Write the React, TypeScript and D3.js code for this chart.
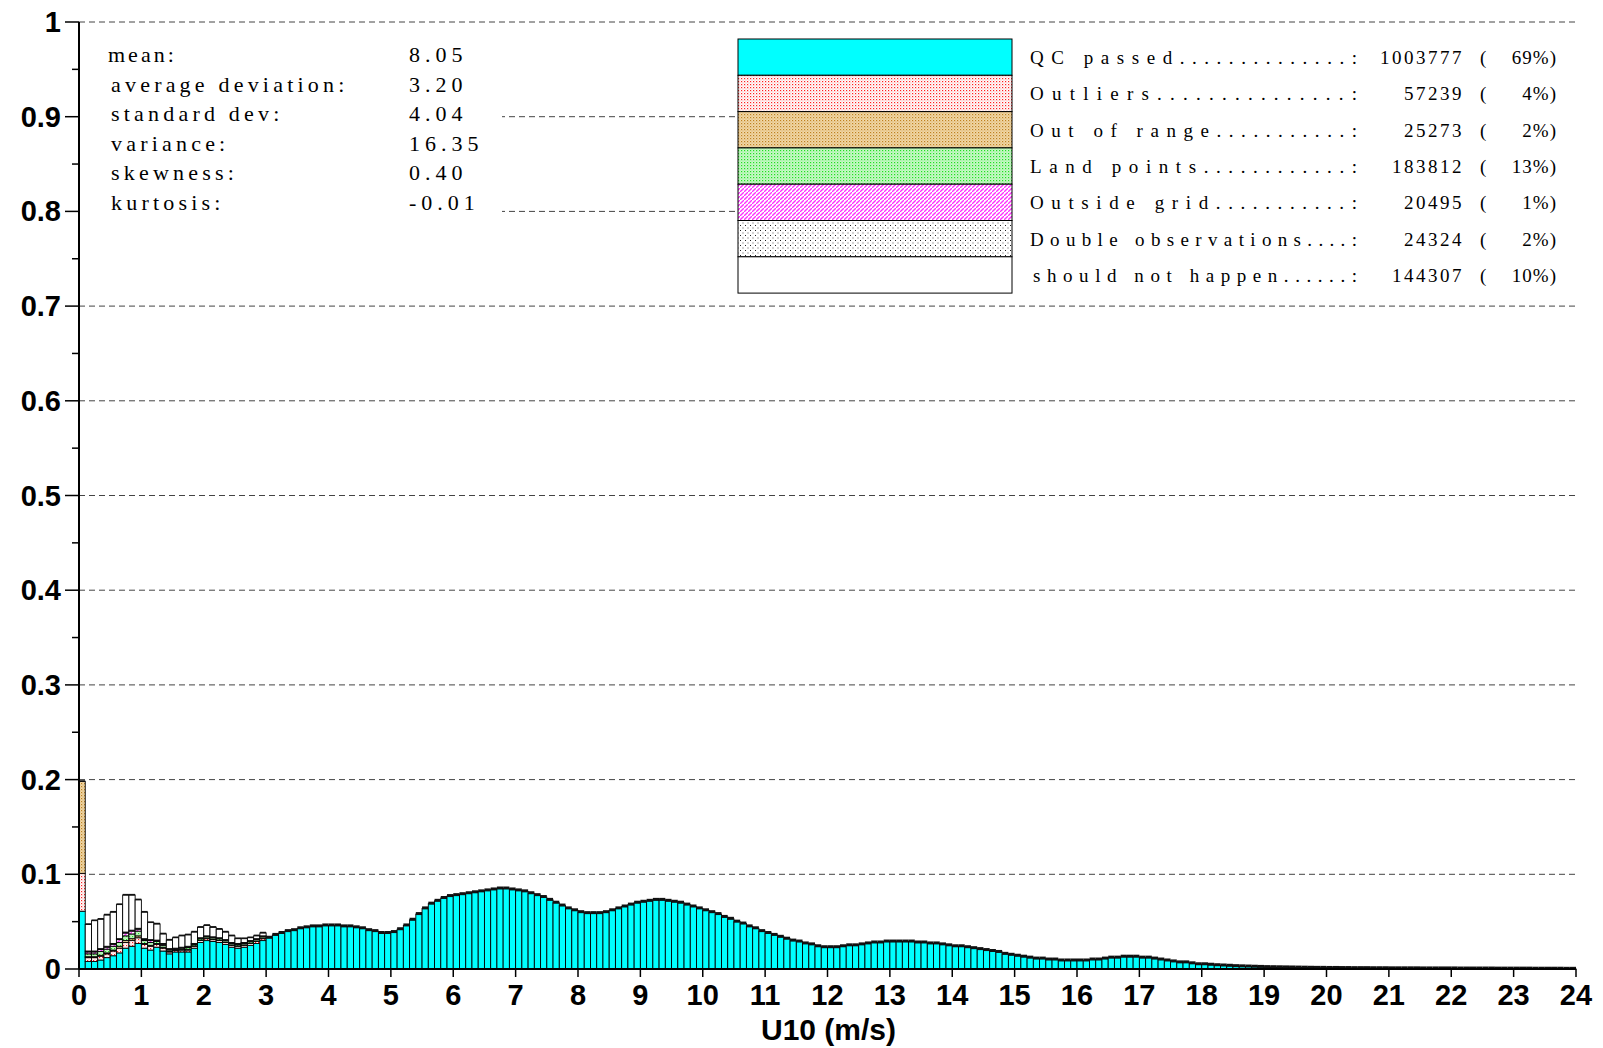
import * as d3 from "d3";

// QC passed, fraction per 0.1 m/s bin, 0..24 m/s
const qcPassed = [
  0.061, 0.008, 0.008, 0.0095, 0.012, 0.014, 0.017, 0.022, 0.024, 0.027,
  0.022, 0.02, 0.023, 0.019, 0.016, 0.018, 0.018, 0.018, 0.022, 0.028,
  0.03, 0.029, 0.028, 0.026, 0.023, 0.022, 0.023, 0.025, 0.027, 0.03,
  0.033, 0.036, 0.038, 0.04, 0.041, 0.043, 0.044, 0.045, 0.045, 0.046,
  0.046, 0.046, 0.045, 0.045, 0.044, 0.043, 0.041, 0.04, 0.038, 0.038,
  0.039, 0.042, 0.046, 0.052, 0.058, 0.064, 0.069, 0.072, 0.075, 0.077,
  0.078, 0.079, 0.08, 0.081, 0.082, 0.083, 0.084, 0.085, 0.085, 0.084,
  0.083, 0.082, 0.08, 0.078, 0.076, 0.073, 0.07, 0.067, 0.064, 0.062,
  0.06, 0.059, 0.059, 0.059, 0.06, 0.062, 0.064, 0.066, 0.068, 0.07,
  0.071, 0.072, 0.073, 0.073, 0.072, 0.071, 0.07, 0.068, 0.066, 0.064,
  0.062, 0.06, 0.058, 0.055, 0.053, 0.05, 0.048, 0.045, 0.043, 0.04,
  0.038, 0.036, 0.034, 0.032, 0.03, 0.029, 0.027, 0.026, 0.024, 0.023,
  0.023, 0.023, 0.024, 0.025, 0.025, 0.026, 0.027, 0.028, 0.028, 0.029,
  0.029, 0.029, 0.029, 0.029, 0.028, 0.028, 0.027, 0.027, 0.026, 0.025,
  0.024, 0.024, 0.023, 0.022, 0.021, 0.02, 0.019, 0.018, 0.016, 0.015,
  0.014, 0.013, 0.012, 0.011, 0.011, 0.01, 0.01, 0.009, 0.009, 0.009,
  0.009, 0.009, 0.01, 0.01, 0.011, 0.012, 0.012, 0.013, 0.013, 0.013,
  0.012, 0.012, 0.011, 0.01, 0.009, 0.008, 0.007, 0.007, 0.006, 0.005,
  0.005, 0.0045, 0.004, 0.0037, 0.0034, 0.003, 0.0028, 0.0026, 0.0024, 0.0022,
  0.002, 0.0019, 0.0018, 0.0017, 0.0016, 0.0015, 0.0014, 0.0013, 0.0012, 0.0012,
  0.0011, 0.0011, 0.001, 0.001, 0.0009, 0.0009, 0.0009, 0.0008, 0.0008, 0.0008,
  0.0007, 0.0007, 0.0007, 0.0007, 0.0007, 0.0006, 0.0006, 0.0006, 0.0006, 0.0006,
  0.0006, 0.0005, 0.0005, 0.0005, 0.0005, 0.0005, 0.0005, 0.0004, 0.0004, 0.0004,
  0.0004, 0.0004, 0.0004, 0.0003, 0.0003, 0.0003, 0.0003, 0.0003, 0.0002, 0.0002,
];
const outliers = [
  0.04, 0.004, 0.004, 0.004, 0.004, 0.005, 0.005, 0.006, 0.006, 0.006,
  0.004, 0.004, 0.003, 0.003, 0.002, 0.0015, 0.002, 0.002, 0.002, 0.002,
  0.002, 0.002, 0.002, 0.002, 0.002, 0.002, 0.002, 0.002, 0.002, 0.002,
];
const outOfRange = [
  0.097, 0.001, 0.001, 0.001, 0.001, 0.001, 0.002, 0.002, 0.002, 0.002,
  0.001, 0.001, 0.001, 0.001, 0.0005, 0.0005, 0.0005, 0.0005, 0.0005, 0.0005,
  0.0005, 0.0005, 0.0005, 0.0005, 0.0005, 0.0005, 0.0005, 0.0005, 0.0005, 0.0005,
];
const landPoints = [
  0, 0.003, 0.003, 0.004, 0.004, 0.004, 0.004, 0.005, 0.005, 0.005,
  0.003, 0.003, 0.002, 0.002, 0.0015, 0.001, 0.0015, 0.002, 0.0015, 0.0015,
  0.0015, 0.0015, 0.0015, 0.0015, 0.0015, 0.0015, 0.0015, 0.0015, 0.0015, 0.0015,
];
const outsideGrid = [
  0, 0.002, 0.002, 0.002, 0.002, 0.002, 0.003, 0.003, 0.003, 0.002,
  0.001, 0.002, 0.001, 0.001, 0.001, 0.0005, 0.0005, 0.001, 0.0005, 0.0005,
  0.0005, 0.0005, 0.0005, 0.0005, 0.0005, 0.0005, 0.0005, 0.0005, 0.0005, 0.0005,
];
const doubleObs = [
  0, 0.001, 0.001, 0.001, 0.001, 0.001, 0.001, 0.001, 0.001, 0.001,
  0.001, 0.001, 0.0005, 0.001, 0.0005, 0.0005, 0.0005, 0.0005, 0.0005, 0.0005,
  0.0005, 0.0005, 0.0005, 0.0005, 0.0005, 0.0005, 0.0005, 0.0005, 0.0005, 0.0005,
];
const shouldNot = [
  0, 0.028, 0.032, 0.031, 0.033, 0.033, 0.036, 0.039, 0.037, 0.03,
  0.028, 0.018, 0.017, 0.01, 0.009, 0.011, 0.012, 0.012, 0.012, 0.011,
  0.011, 0.01, 0.009, 0.008, 0.007, 0.005, 0.004, 0.003, 0.003, 0.003,
];

const seriesNames = ["QC passed", "Outliers", "Out of range", "Land points", "Outside grid", "Double observations", "should not happen"];
const seriesCounts = ["1003777", "57239", "25273", "183812", "20495", "24324", "144307"];
const seriesPcts = ["69%", "4%", "2%", "13%", "1%", "2%", "10%"];
const statLabels = ["mean:", "average deviation:", "standard dev:", "variance:", "skewness:", "kurtosis:"];
const statValues = ["8.05", "3.20", "4.04", "16.35", "0.40", "-0.01"];
const yTicks = [0, 0.1, 0.2, 0.3, 0.4, 0.5, 0.6, 0.7, 0.8, 0.9, 1];

const fills = ["#00ffff", "url(#pRed)", "url(#pBrown)", "url(#pGreen)", "url(#pMag)", "url(#pDots)", "#ffffff"];
const series = [qcPassed, outliers, outOfRange, landPoints, outsideGrid, doubleObs, shouldNot];

const L = 79, R = 1576, T = 22, B = 969;
const serif = "Liberation Serif, serif";
const sans = "Liberation Sans, Arial";

export default function App() {
  const x = d3.scaleLinear().domain([0, 24]).range([L, R]);
  const y = d3.scaleLinear().domain([0, 1]).range([B, T]);
  const bins = d3.range(qcPassed.length);
  const fmt = d3.format(".1f");
  const legRow = 36.3;
  const bw = x(0.1) - x(0);

  return (
    <svg width={1603} height={1048} style={{ position: "absolute", left: 0, top: 0, background: "#fff" }}>
      <defs>
        <pattern id="pRed" width={3} height={3} patternUnits="userSpaceOnUse">
          <rect width={3} height={3} fill="#fff" />
          <rect width={1.2} height={1.2} fill="#ff2020" />
          <rect x={1.5} y={1.5} width={1} height={1} fill="#ff9090" />
        </pattern>
        <pattern id="pBrown" width={3} height={3} patternUnits="userSpaceOnUse">
          <rect width={3} height={3} fill="#f0d9a8" />
          <rect width={1.2} height={1.2} fill="#c08020" />
          <rect x={1.5} y={1.5} width={1} height={1} fill="#d8a050" />
        </pattern>
        <pattern id="pGreen" width={3} height={3} patternUnits="userSpaceOnUse">
          <rect width={3} height={3} fill="#c8f8c8" />
          <rect width={1.2} height={1.2} fill="#20e020" />
          <rect x={1.5} y={1.5} width={1} height={1} fill="#80f080" />
        </pattern>
        <pattern id="pMag" width={4} height={4} patternUnits="userSpaceOnUse">
          <rect width={4} height={4} fill="#fff" />
          <path d="M0,4 L4,0" stroke="#ff30ff" strokeWidth={1.3} />
        </pattern>
        <pattern id="pDots" width={5} height={5} patternUnits="userSpaceOnUse">
          <rect width={5} height={5} fill="#fff" />
          <rect width={1} height={1} fill="#222" />
          <rect x={2.5} y={2.5} width={1} height={1} fill="#555" />
        </pattern>
      </defs>

      {yTicks.slice(1).map((t) => (
        <line key={t} x1={L} x2={R} y1={y(t)} y2={y(t)} stroke="#444" strokeWidth={1} strokeDasharray="6,4" />
      ))}

      {/* stats block */}
      <rect x={L + 1} y={30} width={422} height={185} fill="#fff" />
      {statLabels.map((s, i) => (
        <g key={s} fontFamily={serif} fontSize={22} fill="#000">
          <text x={i === 0 ? 108 : 111} y={62 + i * 29.6} letterSpacing={i === 0 ? 3 : 4.2}>{s}</text>
          <text x={409} y={62 + i * 29.6} letterSpacing={5}>{statValues[i]}</text>
        </g>
      ))}

      {/* legend */}
      <rect x={738} y={30} width={R - 738} height={263} fill="#fff" />
      {seriesNames.map((n, i) => {
        const yy = 39 + i * legRow;
        const lx = i === 6 ? 1033 : 1030;
        return (
          <g key={n} fontFamily={serif} fontSize={19} fill="#000">
            <rect x={738} y={yy} width={274} height={legRow} fill={fills[i]} stroke="#000" strokeWidth={1} />
            <text x={lx} y={yy + 25} textLength={1357 - lx} lengthAdjust="spacing">{n.padEnd(23, ".") + ":"}</text>
            <text x={1464} y={yy + 25} textAnchor="end" letterSpacing={2.5}>{seriesCounts[i]}</text>
            <text x={1480} y={yy + 25}>(</text>
            <text x={1557} y={yy + 25} textAnchor="end" letterSpacing={1}>{seriesPcts[i]})</text>
          </g>
        );
      })}

      {/* stacked bars */}
      {bins.map((b) => {
        let acc = 0;
        const rects = series.map((s, k) => {
          const v = s[b] ?? 0;
          if (v <= 0) return null;
          const y0 = acc;
          acc += v;
          return (
            <rect key={k} x={x(b / 10)} width={bw} y={y(acc)} height={y(y0) - y(acc)}
              fill={fills[k]} stroke="#000" strokeWidth={0.9} />
          );
        });
        return (
          <g key={b}>
            {rects}
            <line x1={x(b / 10)} x2={x(b / 10) + bw} y1={y(acc) - 0.5} y2={y(acc) - 0.5} stroke="#111" strokeWidth={b < 30 ? 1.5 : 3} />
          </g>
        );
      })}

      {/* axes */}
      <line x1={L} x2={L} y1={T} y2={B} stroke="#000" strokeWidth={2} />
      <line x1={L} x2={R} y1={B} y2={B} stroke="#000" strokeWidth={2} />
      {d3.range(0, 1.0001, 0.05).map((t) => (
        <line key={t} x1={L - (Math.round(t * 20) % 2 === 0 ? 14 : 7)} x2={L} y1={y(t)} y2={y(t)} stroke="#000" strokeWidth={1.5} />
      ))}
      {yTicks.map((t) => (
        <text key={t} x={L - 18} y={y(t) + 10} textAnchor="end" fontFamily={sans} fontWeight="bold" fontSize={29}>
          {t === 0 || t === 1 ? String(t) : fmt(t)}
        </text>
      ))}
      {x.ticks(24).map((t) => (
        <g key={t}>
          <line x1={x(t)} x2={x(t)} y1={B} y2={B + 8} stroke="#000" strokeWidth={1.5} />
          <text x={x(t)} y={B + 36} textAnchor="middle" fontFamily={sans} fontWeight="bold" fontSize={29}>{t}</text>
        </g>
      ))}
      <text x={(L + R) / 2 + 1} y={1040} textAnchor="middle" fontFamily={sans} fontWeight="bold" fontSize={30}>U10 (m/s)</text>
    </svg>
  );
}
